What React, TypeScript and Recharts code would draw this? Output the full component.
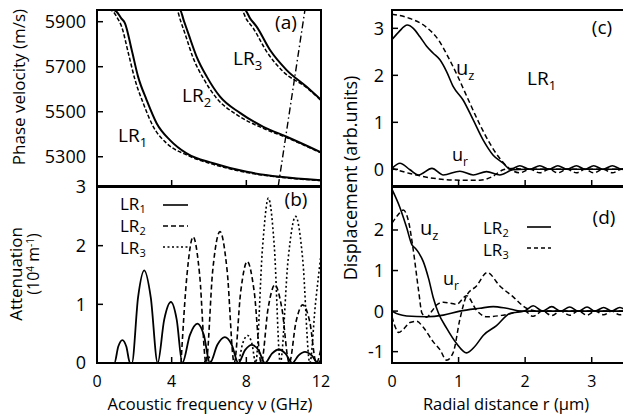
import React from 'react';
import { LineChart, Line, XAxis, YAxis, ReferenceArea } from 'recharts';

type P = [number, number];

// ---------- Panel (a): phase velocity (m/s) vs acoustic frequency (GHz)
const velTicks = [5300, 5500, 5700, 5900];
const freqTicks = [0, 4, 8, 12];
const velLR1: P[] = [[0, 5958], [0.9, 5952], [1.05, 5944], [1.3, 5915], [1.5, 5893], [1.86, 5774], [2.2, 5656], [2.66, 5552], [3.2, 5448], [3.91, 5374], [4.8, 5315], [6.23, 5271], [8.02, 5233], [9.8, 5211], [12, 5196]];
const velLR1b: P[] = [[0, 5958], [0.75, 5951], [0.87, 5944], [1.1, 5915], [1.32, 5878], [1.68, 5760], [2.04, 5641], [2.48, 5537], [3.02, 5433], [3.73, 5360], [4.8, 5308], [6.23, 5266], [8.02, 5230], [9.8, 5209], [12, 5194]];
const velLR2: P[] = [[4.0, 5958], [4.45, 5952], [4.65, 5905], [4.89, 5848], [5.34, 5744], [5.88, 5656], [6.59, 5567], [7.66, 5495], [8.91, 5433], [10.16, 5389], [12, 5320]];
const velLR2b: P[] = [[3.8, 5958], [4.27, 5952], [4.48, 5903], [4.71, 5848], [5.16, 5737], [5.70, 5648], [6.41, 5560], [7.48, 5487], [8.91, 5426], [10.16, 5385], [12, 5317]];
const velLR3: P[] = [[7.5, 5958], [7.93, 5952], [8.2, 5915], [8.55, 5878], [9.27, 5774], [10.16, 5685], [11.23, 5611], [12, 5553]];
const velLR3b: P[] = [[7.3, 5958], [7.75, 5952], [8.0, 5912], [8.37, 5871], [9.09, 5767], [9.98, 5678], [11.23, 5607], [12, 5550]];
const velLight: P[] = [[9.71, 5170], [11.14, 5952]];

// ---------- Panel (b): attenuation (10^4 m^-1) vs frequency (GHz)
const attTicks = [0, 1, 2, 3];
const attLR1: P[] = [
  [0, 0], [0.93, 0], [1.14, 0.28], [1.36, 0.39], [1.57, 0.28], [1.77, 0],
  [1.87, 0], [2.2, 1.12], [2.53, 1.58], [2.88, 1.12], [3.25, 0],
  [3.6, 0.74], [3.96, 1.04], [4.27, 0.74], [4.57, 0],
  [4.98, 0.48], [5.38, 0.67], [5.72, 0.48], [6.05, 0],
  [6.45, 0.31], [6.85, 0.44], [7.22, 0.31], [7.57, 0],
  [7.93, 0.22], [8.3, 0.31], [8.65, 0.22], [9.0, 0],
  [9.37, 0.16], [9.74, 0.23], [10.1, 0.16], [10.46, 0],
  [10.8, 0.13], [11.14, 0.19], [11.5, 0.13], [11.85, 0], [12, 0.06],
];
const attLR2: P[] = [
  [4.5, 0], [4.82, 1.5], [5.15, 2.15], [5.5, 1.5], [5.84, 0],
  [6.2, 1.58], [6.59, 2.24], [6.97, 1.58], [7.35, 0],
  [7.7, 1.22], [8.05, 1.73], [8.42, 1.22], [8.8, 0],
  [9.17, 0.94], [9.53, 1.33], [9.9, 0.94], [10.3, 0],
  [10.66, 0.7], [11.02, 0.99], [11.4, 0.7], [11.75, 0], [12, 0.25],
];
const attLR3: P[] = [
  [5.75, 0], [5.95, 0.12], [6.15, 0], [7.55, 0], [7.8, 0.33], [8.07, 0.47], [8.3, 0.33], [8.5, 0],
  [8.87, 1.98], [9.18, 2.81], [9.5, 1.98], [9.82, 0],
  [10.24, 1.77], [10.64, 2.5], [11.02, 1.77], [11.4, 0], [11.7, 1.0], [12, 1.85],
];

// ---------- Panel (c): LR1 displacement vs radial distance (um)
const rTicks = [0, 1, 2, 3];
const dispTicksC = [0, 1, 2, 3];
const cUzSolid: P[] = [[0, 2.76], [0.1, 2.92], [0.23, 3.07], [0.32, 3.0], [0.42, 2.82], [0.52, 2.62], [0.62, 2.47], [0.72, 2.33], [0.82, 2.08], [0.92, 1.76], [1.07, 1.47], [1.22, 1.05], [1.37, 0.62], [1.52, 0.3], [1.67, 0.13], [1.78, 0.0], [1.92, 0.075], [2.07, 0], [2.22, 0.075], [2.36, 0], [2.49, 0.075], [2.63, 0], [2.77, 0.075], [2.9, 0], [3.03, 0.075], [3.17, 0], [3.31, 0.075], [3.45, 0], [3.5, 0.03]];
const cUzDash: P[] = [[0, 3.3], [0.27, 3.21], [0.52, 3.02], [0.7, 2.75], [0.84, 2.4], [0.99, 1.97], [1.15, 1.47], [1.31, 0.98], [1.47, 0.55], [1.62, 0.23], [1.78, 0.0], [1.92, -0.075], [2.07, 0], [2.22, -0.075], [2.36, 0], [2.49, -0.075], [2.63, 0], [2.77, -0.075], [2.9, 0], [3.03, -0.075], [3.17, 0], [3.31, -0.075], [3.45, 0], [3.5, -0.03]];
const cUrSolid: P[] = [[0, 0.02], [0.12, 0.13], [0.27, -0.01], [0.4, -0.12], [0.6, 0.02], [0.77, -0.12], [1.02, -0.04], [1.22, -0.12], [1.42, -0.05], [1.62, -0.12], [1.82, -0.01], [2.0, 0], [3.5, 0]];
const cUrDash: P[] = [[0, 0.02], [0.27, -0.09], [0.62, -0.19], [1.02, -0.23], [1.32, -0.23], [1.5, -0.16], [1.67, -0.01], [1.8, 0.02], [2.0, 0], [3.5, 0]];

// ---------- Panel (d): LR2 (solid) and LR3 (dashed) displacement
const dispTicksD = [-1, 0, 1, 2];
const dUzLR2: P[] = [[0, 3.0], [0.12, 2.55], [0.22, 2.06], [0.3, 1.63], [0.35, 1.55], [0.4, 1.44], [0.47, 1.22], [0.55, 0.8], [0.62, 0.33], [0.7, -0.06], [0.82, -0.42], [0.97, -0.8], [1.12, -1.03], [1.25, -0.86], [1.37, -0.6], [1.57, -0.36], [1.77, -0.06], [1.99, 0], [2.12, 0.13], [2.26, 0], [2.4, 0.11], [2.53, 0], [2.67, 0.1], [2.8, 0], [2.93, 0.1], [3.05, 0], [3.18, 0.09], [3.3, 0], [3.42, 0.09], [3.5, 0.03]];
const dUrLR2: P[] = [[0, 0], [0.1, -0.08], [0.22, -0.12], [0.52, -0.14], [0.77, -0.1], [1.02, 0], [1.32, 0.07], [1.52, 0.11], [1.72, 0.07], [1.95, 0], [3.5, 0]];
const dUzLR3: P[] = [[0, 2.17], [0.08, 2.35], [0.17, 2.49], [0.25, 2.2], [0.32, 1.5], [0.4, 0.5], [0.45, -0.05], [0.52, -0.15], [0.6, 0.0], [0.67, 0.15], [0.77, 0.22], [0.97, 0.17], [1.12, 0.38], [1.27, 0.02], [1.42, -0.14], [1.67, -0.1], [1.99, 0], [2.12, -0.13], [2.26, 0], [2.4, -0.11], [2.53, 0], [2.67, -0.1], [2.8, 0], [2.93, -0.1], [3.05, 0], [3.18, -0.09], [3.3, 0], [3.42, -0.09], [3.5, -0.03]];
const dUrLR3: P[] = [[0, -0.14], [0.05, -0.4], [0.1, -0.53], [0.17, -0.45], [0.27, -0.28], [0.37, -0.25], [0.47, -0.4], [0.62, -0.76], [0.72, -0.95], [0.82, -1.21], [0.92, -1.02], [1.02, -0.2], [1.12, 0.38], [1.27, 0.62], [1.43, 0.95], [1.62, 0.62], [1.82, 0.35], [2.02, 0.07], [2.2, 0], [3.5, 0]];

const FONT = "'Open Sans', 'Noto Sans', sans-serif";
const TICK_FS = 18;
const XTICK_FS = 16;

const toData = (pts: P[]) => pts.map(([x, y]) => ({ x, y }));

type Series = { pts: P[]; dash?: string; w?: number };
type Plot = { left: number; right: number; top: number; bottom: number };

const CHART_W = 640;
const CHART_H = 415;
const YW = 40;
const XH = 30;

function makeYTick(m: number) {
  return (props: any) => {
    const { x, y, payload } = props;
    return (
      <g>
        <line x1={x + m} x2={x + m + 6} y1={y} y2={y} stroke="#000" strokeWidth={1.5} />
        <text x={x} y={y} dy="0.36em" textAnchor="end" fontSize={TICK_FS} fontFamily={FONT} fill="#000">
          {payload.value}
        </text>
      </g>
    );
  };
}

function makeXTick(m: number, show: boolean) {
  return (props: any) => {
    const { x, y, payload } = props;
    return (
      <g>
        <line x1={x} x2={x} y1={y - m} y2={y - m - 6} stroke="#000" strokeWidth={1.5} />
        {show && (
          <text x={x} y={y} dy="0.4em" textAnchor="middle" fontSize={XTICK_FS} fontFamily={FONT} fill="#000">
            {payload.value}
          </text>
        )}
      </g>
    );
  };
}

function Panel(props: {
  plot: Plot;
  xDomain: [number, number];
  yDomain: [number, number];
  xTicks: number[];
  yTicks: number[];
  showX: boolean;
  yMargin: number;
  series: Series[];
}) {
  const { plot, xDomain, yDomain, xTicks, yTicks, showX, yMargin, series } = props;
  const margin = {
    top: plot.top,
    left: plot.left - YW,
    right: CHART_W - plot.right,
    bottom: CHART_H - plot.bottom - XH,
  };
  return (
    <div style={{ position: 'absolute', left: 0, top: 0 }}>
      <LineChart width={CHART_W} height={CHART_H} margin={margin}>
        <XAxis
          type="number"
          dataKey="x"
          domain={xDomain}
          ticks={xTicks}
          interval={0}
          allowDataOverflow
          axisLine={false}
          tickLine={false}
          tickSize={0}
          tickMargin={18}
          height={XH}
          tick={makeXTick(18, showX)}
        />
        <YAxis
          type="number"
          domain={yDomain}
          ticks={yTicks}
          interval={0}
          allowDataOverflow
          axisLine={false}
          tickLine={false}
          tickSize={0}
          tickMargin={yMargin}
          width={YW}
          tick={makeYTick(yMargin)}
        />
        <ReferenceArea
          x1={xDomain[0]}
          x2={xDomain[1]}
          y1={yDomain[0]}
          y2={yDomain[1]}
          fill="none"
          fillOpacity={0}
          stroke="#000"
          strokeWidth={2}
          ifOverflow="visible"
        />
        {series.map((s, i) => (
          <Line
            key={i}
            data={toData(s.pts)}
            dataKey="y"
            type="monotone"
            stroke="#000"
            strokeWidth={s.w ?? 1.6}
            strokeDasharray={s.dash}
            dot={false}
            activeDot={false}
            isAnimationActive={false}
          />
        ))}
      </LineChart>
    </div>
  );
}

function Sub(props: { x: number; y: number; main: string; sub: string; fs?: number; sfs?: number; sdy?: number }) {
  const fs = props.fs ?? 19;
  const sfs = props.sfs ?? 13;
  return (
    <text x={props.x} y={props.y} fontSize={fs} fontFamily={FONT} fill="#000">
      {props.main}
      <tspan fontSize={sfs} dy={props.sdy ?? 5}>{props.sub}</tspan>
    </text>
  );
}

function Overlay() {
  const lab = { fontFamily: FONT, fill: '#000' } as const;
  return (
    <svg width={623} height={415} style={{ position: 'absolute', left: 0, top: 0, pointerEvents: 'none' }}>
      {/* axis titles */}
      <text {...lab} fontSize={17} textAnchor="middle" transform="translate(25,87) rotate(-90)">Phase velocity (m/s)</text>
      <text {...lab} fontSize={17} textAnchor="middle" transform="translate(22,274) rotate(-90)">Attenuation</text>
      <text {...lab} fontSize={16} textAnchor="middle" transform="translate(39,264) rotate(-90)">
        (10<tspan fontSize={10} dy={-5}>4</tspan><tspan dy={5}> m</tspan><tspan fontSize={10} dy={-5}>-1</tspan><tspan dy={5}>)</tspan>
      </text>
      <text {...lab} fontSize={18} textAnchor="middle" transform="translate(357,178) rotate(-90)">Displacement (arb.units)</text>
      <text {...lab} fontSize={16.5} textAnchor="middle" x={210} y={410}>Acoustic frequency ν (GHz)</text>
      <text {...lab} fontSize={16.5} textAnchor="middle" x={506} y={410}>Radial distance r (μm)</text>

      {/* panel tags */}
      <text {...lab} fontSize={19} textAnchor="middle" x={286} y={29}>(a)</text>
      <text {...lab} fontSize={19} textAnchor="middle" x={296} y={206}>(b)</text>
      <text {...lab} fontSize={19} textAnchor="middle" x={602} y={34}>(c)</text>
      <text {...lab} fontSize={19} textAnchor="middle" x={604} y={224}>(d)</text>

      {/* panel (a) mode labels */}
      <Sub x={233} y={65} main="LR" sub="3" />
      <Sub x={182} y={102} main="LR" sub="2" />
      <Sub x={118} y={142} main="LR" sub="1" />

      {/* panel (b) legend */}
      <Sub x={120} y={210} main="LR" sub="1" fs={17} sfs={11} sdy={3} />
      <Sub x={120} y={232} main="LR" sub="2" fs={17} sfs={11} sdy={3} />
      <Sub x={120} y={254} main="LR" sub="3" fs={17} sfs={11} sdy={3} />
      <line x1={163} x2={188} y1={205} y2={205} stroke="#000" strokeWidth={1.6} />
      <line x1={163} x2={188} y1={226} y2={226} stroke="#000" strokeWidth={1.6} strokeDasharray="5 3" />
      <line x1={163} x2={188} y1={247} y2={247} stroke="#000" strokeWidth={1.6} strokeDasharray="2 2.5" />

      {/* panel (c) labels */}
      <Sub x={456} y={75} main="u" sub="z" fs={20} />
      <Sub x={527} y={85} main="LR" sub="1" />
      <Sub x={452} y={161} main="u" sub="r" fs={18} sfs={12} />

      {/* panel (d) labels */}
      <Sub x={420} y={235} main="u" sub="z" fs={20} />
      <Sub x={443} y={285} main="u" sub="r" fs={18} sfs={12} />
      <Sub x={483} y={234} main="LR" sub="2" fs={17} sfs={11} sdy={3} />
      <Sub x={483} y={256} main="LR" sub="3" fs={17} sfs={11} sdy={3} />
      <line x1={527} x2={551} y1={227} y2={227} stroke="#000" strokeWidth={1.6} />
      <line x1={527} x2={551} y1={248} y2={248} stroke="#000" strokeWidth={1.6} strokeDasharray="4 3" />
    </svg>
  );
}

export default function App() {
  return (
    <div style={{ position: 'fixed', left: 0, top: 0, width: 623, height: 415, overflow: 'hidden', background: '#fff' }}>
      <Panel
        plot={{ left: 97, right: 321, top: 10, bottom: 186 }}
        xDomain={[0, 12]}
        yDomain={[5170, 5952]}
        xTicks={freqTicks}
        yTicks={velTicks}
        showX={false}
        yMargin={11}
        series={[
          { pts: velLR1, w: 2 },
          { pts: velLR1b, dash: '4 2', w: 1.5 },
          { pts: velLR2, w: 2 },
          { pts: velLR2b, dash: '4 2', w: 1.5 },
          { pts: velLR3, w: 2 },
          { pts: velLR3b, dash: '4 2', w: 1.5 },
          { pts: velLight, dash: '7 3 1.5 3', w: 1.4 },
        ]}
      />
      <Panel
        plot={{ left: 97, right: 321, top: 187, bottom: 363 }}
        xDomain={[0, 12]}
        yDomain={[0, 3]}
        xTicks={freqTicks}
        yTicks={attTicks}
        showX={true}
        yMargin={11}
        series={[
          { pts: attLR1, w: 1.8 },
          { pts: attLR2, dash: '5 3', w: 1.6 },
          { pts: attLR3, dash: '2 2.5', w: 1.6 },
        ]}
      />
      <Panel
        plot={{ left: 392, right: 625, top: 10, bottom: 186 }}
        xDomain={[0, 3.5]}
        yDomain={[-0.355, 3.39]}
        xTicks={rTicks}
        yTicks={dispTicksC}
        showX={false}
        yMargin={8}
        series={[
          { pts: cUzSolid, w: 1.6 },
          { pts: cUzDash, dash: '5 3', w: 1.5 },
          { pts: cUrSolid, w: 1.6 },
          { pts: cUrDash, dash: '5 3', w: 1.5 },
        ]}
      />
      <Panel
        plot={{ left: 392, right: 625, top: 187, bottom: 363 }}
        xDomain={[0, 3.5]}
        yDomain={[-1.28, 3.06]}
        xTicks={rTicks}
        yTicks={dispTicksD}
        showX={true}
        yMargin={8}
        series={[
          { pts: dUzLR2, w: 1.6 },
          { pts: dUrLR2, w: 1.6 },
          { pts: dUzLR3, dash: '5 3', w: 1.5 },
          { pts: dUrLR3, dash: '5 3', w: 1.5 },
        ]}
      />
      <Overlay />
    </div>
  );
}
